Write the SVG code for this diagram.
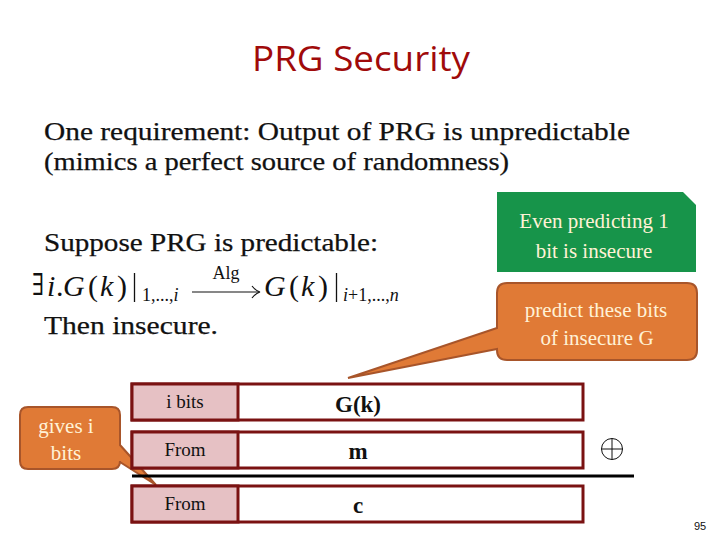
<svg xmlns="http://www.w3.org/2000/svg" width="720" height="540" viewBox="0 0 720 540">
<style>
.body{font-family:"Liberation Serif","DejaVu Serif",serif;font-size:25px;fill:#111;stroke:#111;stroke-width:0.25}
.m{font-family:"Liberation Serif","DejaVu Serif",serif;font-size:30px;fill:#111}
.mi{font-family:"Liberation Serif","DejaVu Serif",serif;font-size:30px;font-style:italic;fill:#111}
.sub{font-family:"Liberation Serif","DejaVu Serif",serif;font-size:18px;fill:#111}
.call{font-family:"Liberation Serif","DejaVu Serif",serif;font-size:21px;fill:#FFF2D6;text-anchor:middle}
.cell{fill:#fff;stroke:#7A1212;stroke-width:3}
.pink{fill:#E6C1C4;stroke:#7A1212;stroke-width:3}
.lbl{font-family:"Liberation Serif","DejaVu Serif",serif;font-size:19px;fill:#111;text-anchor:middle}
.val{font-family:"Liberation Serif","DejaVu Serif",serif;font-size:23px;font-weight:bold;fill:#111;text-anchor:middle}
</style>
<rect width="720" height="540" fill="#fff"/>
<text x="361" y="71" text-anchor="middle" font-family="'Open Sans','Liberation Sans',sans-serif" font-size="35" fill="#A00A0A" textLength="218" lengthAdjust="spacingAndGlyphs">PRG Security</text>
<text class="body" x="44" y="140" textLength="586" lengthAdjust="spacingAndGlyphs">One requirement: Output of PRG is unpredictable</text>
<text class="body" x="44" y="170" textLength="465" lengthAdjust="spacingAndGlyphs">(mimics a perfect source of randomness)</text>
<text class="body" x="44" y="251" textLength="334" lengthAdjust="spacingAndGlyphs">Suppose PRG is predictable:</text>
<text class="body" x="44" y="334" textLength="174" lengthAdjust="spacingAndGlyphs">Then insecure.</text>
<g id="formula">
<text class="m" x="32" y="295" font-size="27" textLength="12" lengthAdjust="spacingAndGlyphs">∃</text>
<text class="mi" x="47" y="296">i</text>
<text class="m" x="56" y="296">.</text>
<text class="mi" x="63" y="296">G</text>
<text class="m" x="88" y="296">(</text>
<text class="mi" x="100" y="296">k</text>
<text class="m" x="117" y="296">)</text>
<line x1="134.5" y1="273" x2="134.5" y2="302" stroke="#111" stroke-width="1.3"/>
<text class="sub" x="142" y="301"><tspan>1,...,</tspan><tspan font-style="italic">i</tspan></text>
<text class="sub" x="226" y="279" text-anchor="middle">Alg</text>
<line x1="192" y1="292" x2="259" y2="292" stroke="#111" stroke-width="1.2"/>
<path d="M252,286 Q256,291 260,292 Q256,293 252,298" fill="none" stroke="#111" stroke-width="1.2"/>
<text class="mi" x="264" y="296">G</text>
<text class="m" x="289" y="296">(</text>
<text class="mi" x="301" y="296">k</text>
<text class="m" x="318" y="296">)</text>
<line x1="336.5" y1="273" x2="336.5" y2="302" stroke="#111" stroke-width="1.3"/>
<text class="sub" x="343" y="301"><tspan font-style="italic">i</tspan><tspan>+1,...,</tspan><tspan font-style="italic">n</tspan></text>
</g>
<g id="note-green">
<path d="M497,192 L683,192 L696,205 L696,272 L497,272 Z" fill="#17944A"/>
<text class="call" x="594" y="228">Even predicting 1</text>
<text class="call" x="594" y="258">bit is insecure</text>
</g>
<g id="callout-predict">
<path d="M507,283 L687,283 Q697,283 697,293 L697,350 Q697,360 687,360 L507,360 Q497,360 497,350 L497,349 L348,378 L497,328 L497,293 Q497,283 507,283 Z" fill="#E07A36" stroke="#A8552A" stroke-width="2"/>
<text class="call" x="596" y="317">predict these bits</text>
<text class="call" x="597" y="345">of insecure G</text>
</g>
<g id="callout-gives">
<path d="M28,407 L112,407 Q120,407 120,415 L120,445 L156,485 L120,462 L120,461 Q120,469 112,469 L28,469 Q20,469 20,461 L20,415 Q20,407 28,407 Z" fill="#E07A36" stroke="#A8552A" stroke-width="2"/>
<text class="call" x="66" y="433">gives i</text>
<text class="call" x="66" y="460">bits</text>
</g>
<g id="row-gk">
<rect class="cell" x="132" y="384" width="451" height="36"/>
<rect class="pink" x="132" y="384" width="106" height="36"/>
<text class="lbl" x="185" y="408">i bits</text>
<text class="val" x="358" y="412">G(k)</text>
</g>
<g id="row-m">
<rect class="cell" x="132" y="432" width="451" height="36"/>
<rect class="pink" x="132" y="432" width="106" height="36"/>
<text class="lbl" x="185" y="456">From</text>
<text class="val" x="358" y="459">m</text>
</g>
<g id="xor">
<circle cx="612" cy="449" r="10.5" fill="none" stroke="#111" stroke-width="1"/>
<line x1="601.5" y1="449" x2="622.5" y2="449" stroke="#111" stroke-width="1"/>
<line x1="612" y1="438.5" x2="612" y2="459.5" stroke="#111" stroke-width="1"/>
</g>
<g id="connectors">
<line x1="132" y1="476" x2="634" y2="476" stroke="#000" stroke-width="3"/>
</g>
<g id="row-c">
<rect class="cell" x="132" y="486" width="451" height="36"/>
<rect class="pink" x="132" y="486" width="106" height="36"/>
<text class="lbl" x="185" y="510">From</text>
<text class="val" x="358" y="513">c</text>
</g>
<text x="700" y="530" text-anchor="middle" font-family="'Liberation Sans',sans-serif" font-size="11" fill="#111">95</text>
</svg>
